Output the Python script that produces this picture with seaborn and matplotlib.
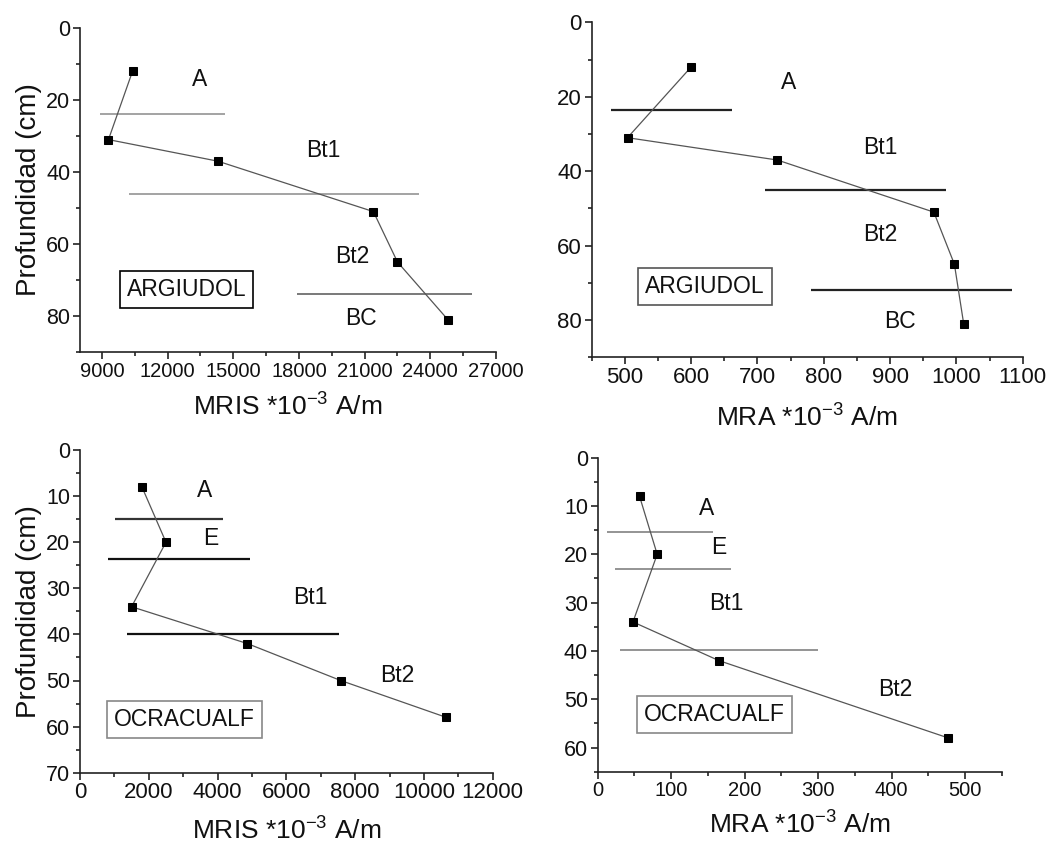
import matplotlib
matplotlib.use("Agg")
import matplotlib.pyplot as plt
import seaborn as sns
import numpy as np
import pandas as pd
from matplotlib.ticker import MultipleLocator

sns.set_style("ticks")
plt.rcParams['font.family'] = ['Liberation Sans', 'DejaVu Sans']
plt.rcParams['mathtext.fontset'] = 'custom'
plt.rcParams['mathtext.rm'] = 'Liberation Sans'
plt.rcParams['mathtext.it'] = 'Liberation Sans'

# ---------------- data ----------------
# ARGIUDOL
arg_depth = [12, 31, 37, 51, 65, 81]
arg_mris = [10400, 9300, 14300, 21400, 22500, 24800]
arg_mra = [600, 504, 730, 966, 997, 1011]
arg_horizons = ["A", "Bt1", "Bt2", "BC"]
arg_mris_bounds = [24, 46, 74]
arg_mris_bound_x0 = [8900, 10250, 17900]
arg_mris_bound_x1 = [14600, 23500, 25900]
arg_mra_bounds = [23.6, 45, 72]
arg_mra_bound_x0 = [479, 712, 781]
arg_mra_bound_x1 = [661, 984, 1084]

# OCRACUALF
ocr_depth = [8, 20, 34, 42, 50, 58]
ocr_mris = [1800, 2500, 1500, 4870, 7580, 10650]
ocr_mra_depth = [8, 20, 34, 42, 58]
ocr_mra = [57, 81, 48, 165, 477]
ocr_horizons = ["A", "E", "Bt1", "Bt2"]
ocr_mris_bounds = [15, 23.7, 40]
ocr_mris_bound_x0 = [1020, 800, 1360]
ocr_mris_bound_x1 = [4170, 4940, 7540]
ocr_mra_bounds = [15.4, 23.1, 39.9]
ocr_mra_bound_x0 = [13, 23, 31]
ocr_mra_bound_x1 = [157, 182, 300]

# ---------------- layout ----------------
W, H = 1057, 844
fig = plt.figure(figsize=(W / 100, H / 100), dpi=100)

def axes_px(l, t, r, b):
    return fig.add_axes([l / W, 1 - b / H, (r - l) / W, (b - t) / H])

SUP = '$^{\\mathregular{-3}}$'

panels = [
    dict(rect=(80, 28, 496, 352), x=arg_mris, y=arg_depth,
         xlim=(8000, 27000), ylim=(90, 0), xmaj=3000, xmin=1500, ymaj=20, ymin=10,
         bounds=arg_mris_bounds, bx0=arg_mris_bound_x0, bx1=arg_mris_bound_x1,
         bcol=['#8a8a8a', '#8a8a8a', '#555555'], blw=[1.1, 1.1, 1.1],
         labels=arg_horizons, lpos=[(13480, 14.2), (19110, 34.1), (20440, 63.5), (20820, 80.6)],
         box="ARGIUDOL", bpos=(12870, 72.6), bcolor='black',
         xlabel='MRIS *10' + SUP + ' A/m', ylabel='Profundidad (cm)', xfs=14.5, yfs=15.5,
         xlpad=9),
    dict(rect=(591.7, 22.3, 1022.7, 357.3), x=arg_mra, y=arg_depth,
         xlim=(450, 1100), ylim=(90, 0), xmaj=100, xmin=50, ymaj=20, ymin=10,
         bounds=arg_mra_bounds, bx0=arg_mra_bound_x0, bx1=arg_mra_bound_x1,
         bcol=['#222222', '#222222', '#222222'], blw=[1.6, 1.6, 1.6],
         labels=arg_horizons, lpos=[(747, 16.2), (885, 33.7), (885, 57.1), (915, 80.5)],
         box="ARGIUDOL", bpos=(621, 71.0), bcolor='#555555',
         xlabel='MRA *10' + SUP + ' A/m', ylabel=None, xfs=16, yfs=16, xlpad=12),
    dict(rect=(80, 450, 492.7, 772.7), x=ocr_mris, y=ocr_depth,
         xlim=(0, 12000), ylim=(70, 0), xmaj=2000, xmin=1000, ymaj=10, ymin=5,
         bounds=ocr_mris_bounds, bx0=ocr_mris_bound_x0, bx1=ocr_mris_bound_x1,
         bcol=['#333333', '#111111', '#111111'], blw=[1.6, 1.6, 1.6],
         labels=ocr_horizons, lpos=[(3635, 8.8), (3800, 19.2), (6690, 32.0), (9230, 49.0)],
         box="OCRACUALF", bpos=(3036, 58.4), bcolor='#888888',
         xlabel='MRIS *10' + SUP + ' A/m', ylabel='Profundidad (cm)', xfs=16, yfs=15.5,
         xlpad=10),
    dict(rect=(597.7, 457.7, 1001.7, 771.7), x=ocr_mra, y=ocr_mra_depth,
         xlim=(0, 550), ylim=(65, 0), xmaj=100, xmin=50, ymaj=10, ymin=5,
         bounds=ocr_mra_bounds, bx0=ocr_mra_bound_x0, bx1=ocr_mra_bound_x1,
         bcol=['#777777', '#777777', '#777777'], blw=[1.1, 1.1, 1.1],
         labels=ocr_horizons, lpos=[(148, 10.5), (165, 18.5), (175, 30.2), (405, 47.9)],
         box="OCRACUALF", bpos=(159, 53.1), bcolor='#888888',
         xlabel='MRA *10' + SUP + ' A/m', ylabel=None, xfs=14.5, yfs=15.5, xlpad=8),
]

for p in panels:
    ax = axes_px(*p['rect'])
    # horizon boundary lines
    for yb, x0, x1, c, lw in zip(p['bounds'], p['bx0'], p['bx1'], p['bcol'], p['blw']):
        ax.hlines(yb, x0, x1, colors=c, linewidth=lw, zorder=1)
    df = pd.DataFrame({'x': p['x'], 'y': p['y']})
    sns.lineplot(data=df, x='x', y='y', sort=False, estimator=None, ax=ax,
                 color='#555555', linewidth=0.9, marker='s', markersize=5.5,
                 markerfacecolor='black', markeredgecolor='black', zorder=3)
    for name, (tx, ty) in zip(p['labels'], p['lpos']):
        ax.text(tx, ty, name, ha='center', va='center', fontsize=16.5, color='#111111')
    ax.text(p['bpos'][0], p['bpos'][1], p['box'], ha='center', va='center', fontsize=16.5,
            color='#111111',
            bbox=dict(boxstyle='square,pad=0.3', facecolor='white',
                      edgecolor=p['bcolor'], linewidth=1.2))
    ax.set_xlim(*p['xlim'])
    ax.set_ylim(*p['ylim'])
    ax.xaxis.set_major_locator(MultipleLocator(p['xmaj']))
    ax.xaxis.set_minor_locator(MultipleLocator(p['xmin']))
    ax.yaxis.set_major_locator(MultipleLocator(p['ymaj']))
    ax.yaxis.set_minor_locator(MultipleLocator(p['ymin']))
    ax.tick_params(axis='both', which='major', direction='out', length=5, width=1.2,
                   color='#222222', pad=2, labelcolor='#111111')
    ax.tick_params(axis='both', which='minor', direction='out', length=3, width=1.2,
                   color='#222222')
    ax.tick_params(axis='x', labelsize=p['xfs'])
    ax.tick_params(axis='y', labelsize=p['yfs'])
    for s in ['top', 'right']:
        ax.spines[s].set_visible(False)
    for s in ['left', 'bottom']:
        ax.spines[s].set_linewidth(1.2)
        ax.spines[s].set_color('#222222')
    ax.set_xlabel(p['xlabel'], fontsize=19, labelpad=p['xlpad'], color='#111111')
    if p['ylabel']:
        ax.set_ylabel(p['ylabel'], fontsize=20, labelpad=3, color='#111111')
    else:
        ax.set_ylabel('')

fig.savefig('out.png', dpi=100)
